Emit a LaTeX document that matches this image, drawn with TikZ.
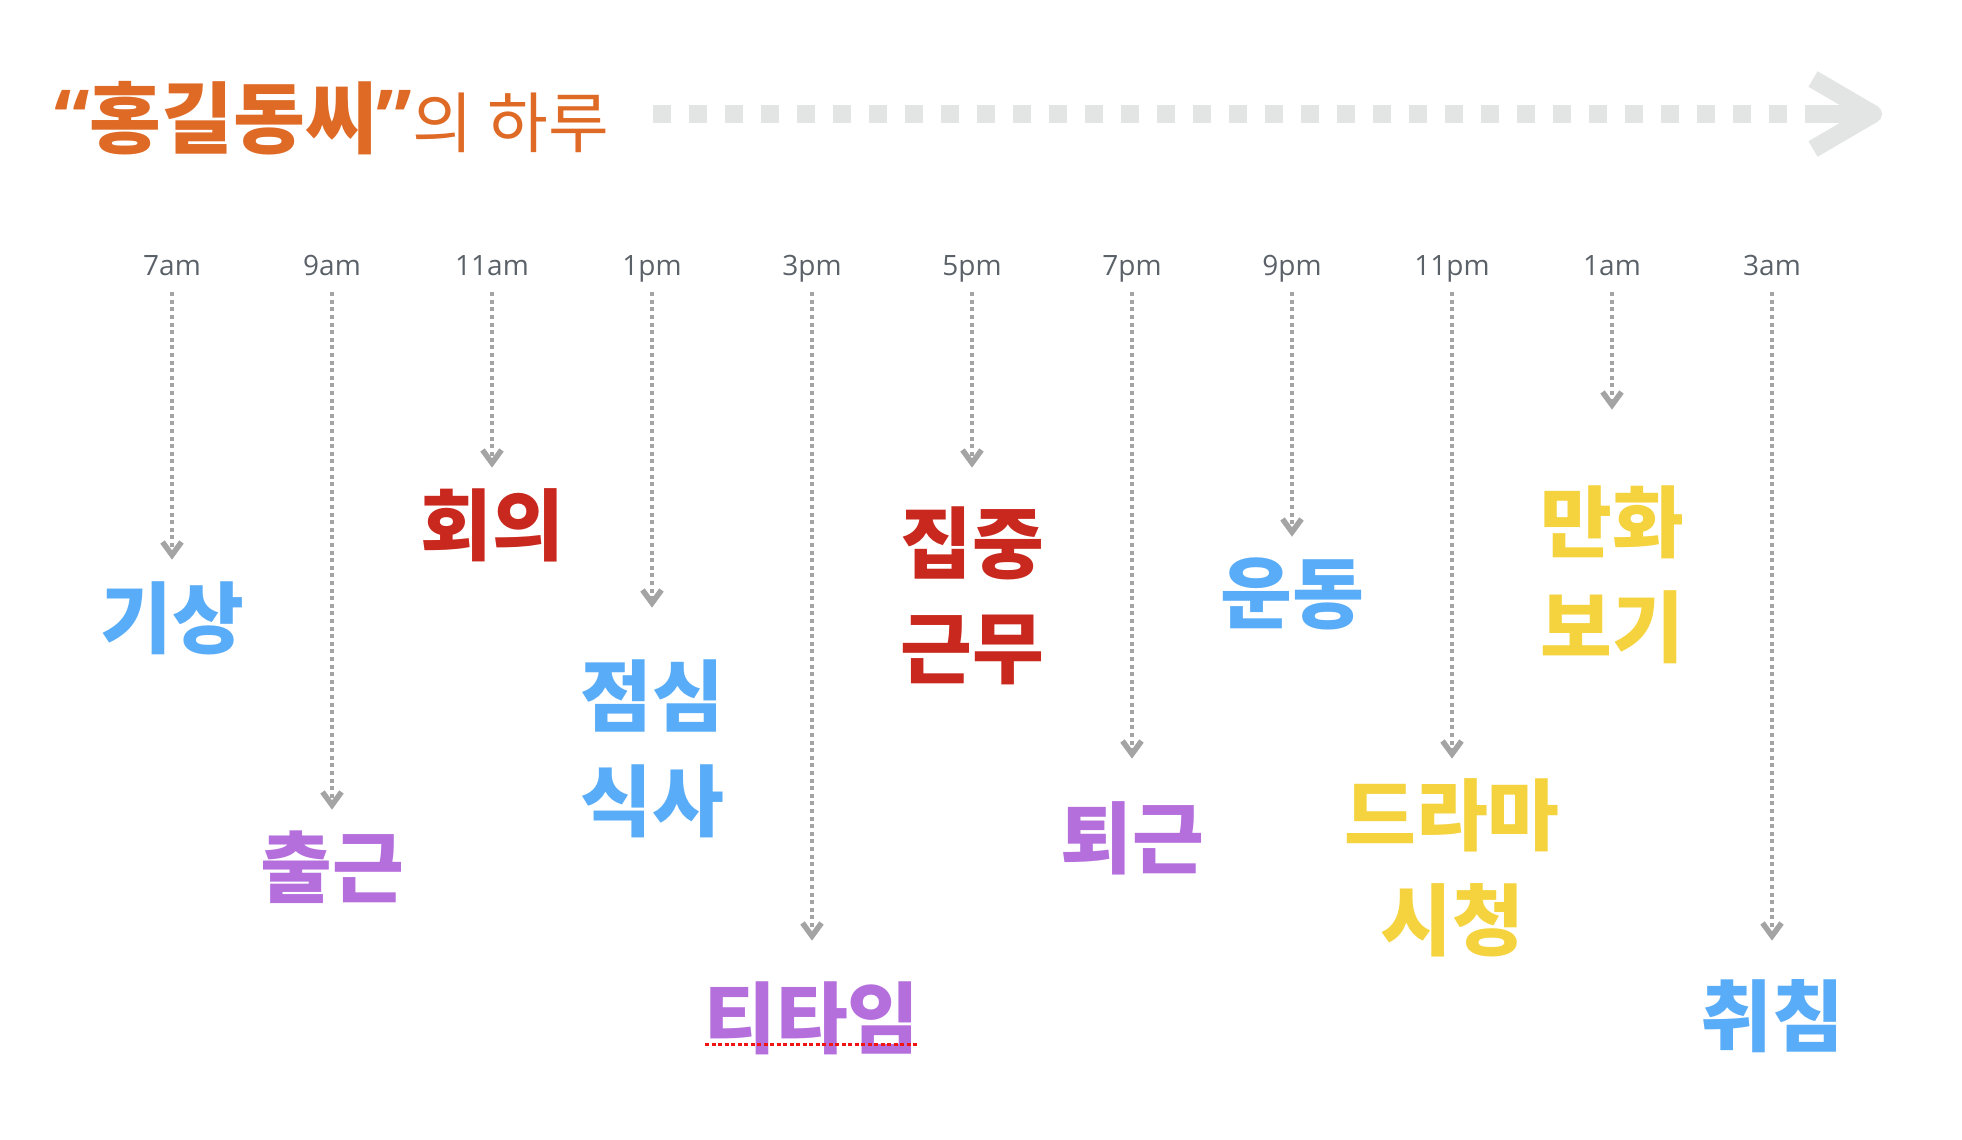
\documentclass[tikz,border=0pt]{standalone}
\usepackage{fontspec}
\setmainfont{Open Sans}
\newfontfamily\kr{Noto Sans CJK KR}
\usetikzlibrary{arrows.meta}
\definecolor{cblue}{RGB}{89,172,247}
\definecolor{cpurple}{RGB}{180,111,220}
\definecolor{cred}{RGB}{201,40,30}
\definecolor{cyellow}{RGB}{244,211,63}
\definecolor{corange}{RGB}{222,106,38}
\definecolor{cgray}{RGB}{164,164,164}
\definecolor{clight}{RGB}{227,228,228}
\definecolor{ctime}{RGB}{91,97,104}
\definecolor{cunder}{RGB}{240,20,20}
\tikzset{
  tlab/.style={font=\fontsize{28}{28}\selectfont, text=ctime, anchor=base, inner sep=0pt, text depth=0pt},
  lab/.style={font=\kr\bfseries\fontsize{78}{105}\selectfont, align=center, inner sep=0pt},
  vline/.style={draw=cgray, line width=3.6pt, dash pattern=on 4pt off 3.6pt, shorten <=17pt},
  chev/.style={draw=cgray, line width=5.5pt, line join=miter},
  tarrow/.style={draw=clight, line width=18pt},
}
\begin{document}
\begin{tikzpicture}[x=1pt,y=-1pt]
\useasboundingbox (0,0) rectangle (1962,1140);
% title
\node[anchor=base west, inner sep=0pt, text=corange] (title) at (54,147)
  {{\bfseries\fontsize{80}{80}\selectfont “}{\kr\bfseries\fontsize{78}{78}\selectfont 홍길동씨}{\bfseries\fontsize{80}{80}\selectfont ”}{\kr\fontsize{66}{66}\selectfont 의 하루}};
% title timeline arrow
\coordinate (ta) at (653,114);
\coordinate (tb) at (1805,114);
\coordinate (tc) at (1873,114);
\draw[tarrow, dash pattern=on 18pt off 18pt] (ta) -- (tb);
\draw[tarrow] (tb) -- (tc);
\draw[tarrow, line join=round] (1813,79) -- (tc) -- (1813,149);
% time labels
\node[tlab] (t1) at (172,275) {7am};
\node[tlab] (t2) at (332,275) {9am};
\node[tlab] (t3) at (492,275) {11am};
\node[tlab] (t4) at (652,275) {1pm};
\node[tlab] (t5) at (812,275) {3pm};
\node[tlab] (t6) at (972,275) {5pm};
\node[tlab] (t7) at (1132,275) {7pm};
\node[tlab] (t8) at (1292,275) {9pm};
\node[tlab] (t9) at (1452,275) {11pm};
\node[tlab] (t10) at (1612,275) {1am};
\node[tlab] (t11) at (1772,275) {3am};
% arrow ends (bottom of each chevron)
\coordinate (e1) at (172,559);
\coordinate (e2) at (332,809);
\coordinate (e3) at (492,467);
\coordinate (e4) at (652,607);
\coordinate (e5) at (812,940);
\coordinate (e6) at (972,467);
\coordinate (e7) at (1132,758);
\coordinate (e8) at (1292,536);
\coordinate (e9) at (1452,758);
\coordinate (e10) at (1612,409);
\coordinate (e11) at (1772,940);
\foreach \i in {1,...,11} {
  \draw[vline] (t\i.south) -- ([shift={(0,-3)}]e\i);
  \draw[chev] ([shift={(-9.5,-17)}]e\i) -- ([shift={(0,-4)}]e\i) -- ([shift={(9.5,-17)}]e\i);
}
% activity labels
\node[lab, text=cblue] (l1) at (172,618) {기상};
\node[lab, text=cpurple] (l2) at (332,867) {출근};
\node[lab, text=cred] (l3) at (492,525) {회의};
\node[lab, text=cblue] (l4) at (652,749) {점심\\식사};
\node[lab, text=cpurple] (l5) at (812,1018) {티타임};
\node[lab, text=cred] (l6) at (972,596) {집중\\근무};
\node[lab, text=cpurple] (l7) at (1132,838) {퇴근};
\node[lab, text=cblue] (l8) at (1292,594) {운동};
\node[lab, text=cyellow] (l9) at (1452,868) {드라마\\시청};
\node[lab, text=cyellow] (l10) at (1612,575) {만화\\보기};
\node[lab, text=cblue] (l11) at (1772,1016) {취침};
% red dotted underline
\draw[cunder, line width=3pt, dash pattern=on 4pt off 2.5pt]
  ([xshift=1pt,yshift=3pt]l5.base west) -- ([xshift=-2pt,yshift=3pt]l5.base east);
\end{tikzpicture}
\end{document}
